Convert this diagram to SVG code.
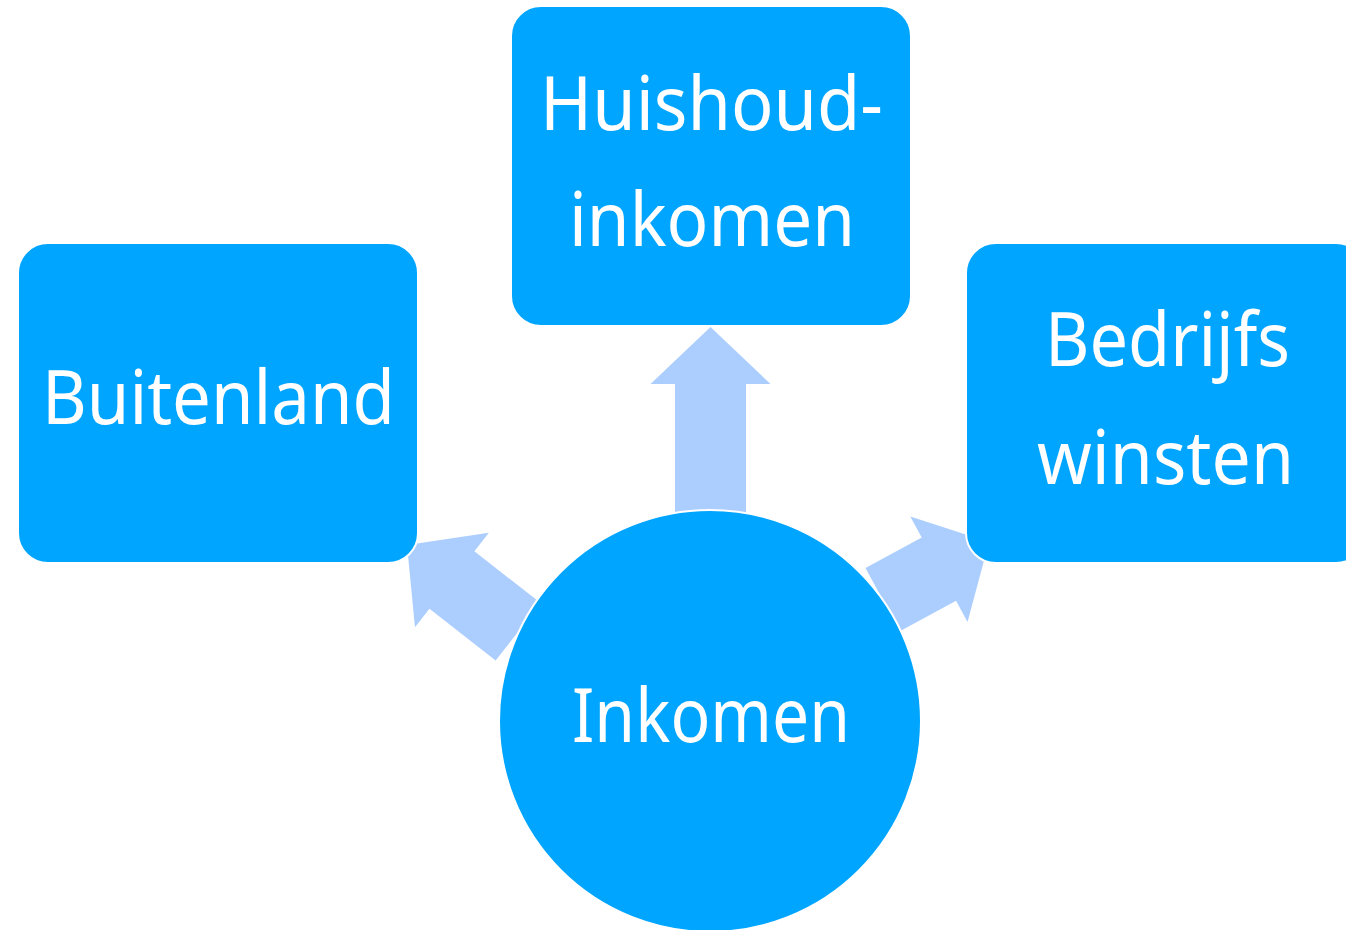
<svg xmlns="http://www.w3.org/2000/svg" width="1346" height="930" viewBox="0 0 1346 930">
<style>
.box{fill:#00A5FF;stroke:#ffffff;stroke-width:2}
.arr{fill:#ABCEFF}
.t{fill:#ffffff;font-family:"Noto Sans","Open Sans",sans-serif;font-size:74px;font-weight:400;text-anchor:middle}
</style>
<rect width="1346" height="930" fill="#ffffff"/>
<g id="connectors">
<path class="arr" transform="translate(710.5,327)" d="M0,0 L60,57 L35.5,57 L35.5,190 L-35.5,190 L-35.5,57 L-60,57 Z"/>
<path class="arr" transform="translate(407,545) rotate(-52)" d="M0,0 L60,57 L36.5,57 L36.5,141 L-36.5,141 L-36.5,57 L-60,57 Z"/>
<path class="arr" transform="translate(989,542) rotate(61.5)" d="M0,0 L60,57 L36,57 L36,121 L-36,121 L-36,57 L-60,57 Z"/>
</g>
<g id="huishoud">
<rect class="box" x="511" y="6" width="400" height="320" rx="30"/>
<text class="t" x="711.5" y="130" textLength="343" lengthAdjust="spacingAndGlyphs">Huishoud-</text>
<text class="t" x="712" y="246" textLength="286" lengthAdjust="spacingAndGlyphs">inkomen</text>
</g>
<g id="buitenland">
<rect class="box" x="18" y="243" width="400" height="320" rx="30"/>
<text class="t" x="218.5" y="424" textLength="353" lengthAdjust="spacingAndGlyphs">Buitenland</text>
</g>
<g id="bedrijfs">
<rect class="box" x="966" y="243" width="400" height="320" rx="30"/>
<text class="t" x="1167.5" y="366" textLength="245" lengthAdjust="spacingAndGlyphs">Bedrijfs</text>
<text class="t" x="1165.5" y="484" textLength="257" lengthAdjust="spacingAndGlyphs">winsten</text>
</g>
<g id="inkomen">
<circle class="box" cx="710" cy="721" r="211"/>
<text class="t" x="711" y="742" textLength="278" lengthAdjust="spacingAndGlyphs">Inkomen</text>
</g>
</svg>
